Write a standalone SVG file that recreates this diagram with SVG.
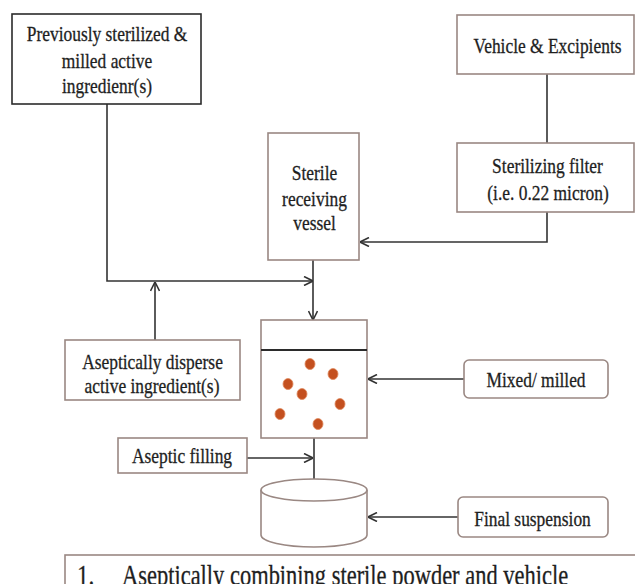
<svg xmlns="http://www.w3.org/2000/svg" width="635" height="584" viewBox="0 0 635 584">
  <defs>
    <style>
      .box { fill: #ffffff; stroke: #9a8883; stroke-width: 1.6; }
      .dark { stroke: #2b2b2b; }
      .lbl { font-family: "Liberation Serif", "Times New Roman", serif; font-size: 21px; fill: #1e1e1e; stroke: #1e1e1e; stroke-width: 0.3; text-anchor: middle; }
      .cap { font-family: "Liberation Serif", "Times New Roman", serif; font-size: 29px; fill: #1e1e1e; stroke: #1e1e1e; stroke-width: 0.3; }
      .wire { fill: none; stroke: #333333; stroke-width: 1.6; }
      .dot { fill: #c4501f; stroke: #e08a60; stroke-width: 0.8; }
    </style>
    <marker id="arrow" viewBox="0 0 10 10" refX="10" refY="5" markerWidth="10" markerHeight="10" markerUnits="userSpaceOnUse" orient="auto">
      <path d="M1,0.5 L10,5 L1,9.5" fill="none" stroke="#333333" stroke-width="1.6"/>
    </marker>
  </defs>

  <rect width="635" height="584" fill="#ffffff"/>

  <!-- connectors -->
  <g id="connectors">
    <path class="wire" d="M107,104 V281 H313" marker-end="url(#arrow)"/>
    <path class="wire" d="M155,340 V282" marker-end="url(#arrow)"/>
    <path class="wire" d="M313,260 V320" marker-end="url(#arrow)"/>
    <path class="wire" d="M547,74 V143"/>
    <path class="wire" d="M547,212 V242 H360" marker-end="url(#arrow)"/>
    <path class="wire" d="M464,379 H368" marker-end="url(#arrow)"/>
    <path class="wire" d="M314,426 V488" marker-end="url(#arrow)"/>
    <path class="wire" d="M247,458 H313" marker-end="url(#arrow)"/>
    <path class="wire" d="M458,517 H368" marker-end="url(#arrow)"/>
  </g>

  <!-- labels use a narrow horizontal scale (condensed serif) -->
  <g id="node-powder">
    <rect class="box dark" x="12" y="14" width="189" height="90"/>
    <text class="lbl" transform="translate(107,41) scale(0.83,1)">Previously sterilized &amp;</text>
    <text class="lbl" transform="translate(107,68) scale(0.83,1)">milled active</text>
    <text class="lbl" transform="translate(107,93) scale(0.83,1)">ingredienr(s)</text>
  </g>

  <g id="node-vehicle">
    <rect class="box" x="457" y="15" width="177" height="59"/>
    <text class="lbl" transform="translate(547.5,53) scale(0.83,1)">Vehicle &amp; Excipients</text>
  </g>
  <g id="node-filter">
    <rect class="box" x="457" y="143" width="177" height="69"/>
    <text class="lbl" transform="translate(547.5,173) scale(0.83,1)">Sterilizing filter</text>
    <text class="lbl" transform="translate(548,200) scale(0.83,1)">(i.e. 0.22 micron)</text>
  </g>

  <g id="node-vessel">
    <rect class="box" x="268" y="133" width="91" height="127"/>
    <text class="lbl" transform="translate(314.5,180) scale(0.83,1)">Sterile</text>
    <text class="lbl" transform="translate(314.5,206) scale(0.83,1)">receiving</text>
    <text class="lbl" transform="translate(314.5,230) scale(0.83,1)">vessel</text>
  </g>

  <g id="node-disperse">
    <rect class="box" x="65" y="340" width="175" height="60"/>
    <text class="lbl" transform="translate(152.5,369) scale(0.83,1)">Aseptically disperse</text>
    <text class="lbl" transform="translate(152,393) scale(0.83,1)">active ingredient(s)</text>
  </g>

  <!-- mixing tank with particles -->
  <g id="node-mixer">
    <rect class="box" x="261" y="320" width="106" height="118"/>
    <line x1="261" y1="350" x2="367" y2="350" stroke="#2b2b2b" stroke-width="1.8"/>
    <ellipse class="dot" cx="310" cy="364" rx="5" ry="5.5"/>
    <ellipse class="dot" cx="333" cy="374" rx="5" ry="5.5"/>
    <ellipse class="dot" cx="288" cy="384" rx="5" ry="5.5"/>
    <ellipse class="dot" cx="302" cy="394" rx="5" ry="5.5"/>
    <ellipse class="dot" cx="340" cy="404" rx="5" ry="5.5"/>
    <ellipse class="dot" cx="280" cy="414" rx="5" ry="5.5"/>
    <ellipse class="dot" cx="318" cy="424" rx="5" ry="5.5"/>
  </g>

  <g id="node-mixed">
    <rect class="box" x="464" y="360" width="144" height="38" rx="5"/>
    <text class="lbl" transform="translate(536,387) scale(0.83,1)">Mixed/ milled</text>
  </g>

  <g id="node-filling">
    <rect class="box" x="118" y="438" width="129" height="35"/>
    <text class="lbl" transform="translate(182,463) scale(0.83,1)">Aseptic filling</text>
  </g>

  <!-- container -->
  <g id="node-container">
    <path class="box" d="M261,490 V535 A53,12 0 0 0 367,535 V490"/>
    <ellipse class="box" cx="314" cy="490" rx="53" ry="11"/>
  </g>

  <g id="node-final">
    <rect class="box" x="458" y="497" width="150" height="40" rx="5"/>
    <text class="lbl" transform="translate(532.5,526) scale(0.83,1)">Final suspension</text>
  </g>

  <!-- caption -->
  <g id="caption">
    <rect class="box" x="65" y="555" width="600" height="60"/>
    <text class="cap" transform="translate(77,585) scale(0.8,1)">1.</text>
    <text class="cap" transform="translate(122,585) scale(0.775,1)">Aseptically combining sterile powder and vehicle</text>
  </g>
</svg>
